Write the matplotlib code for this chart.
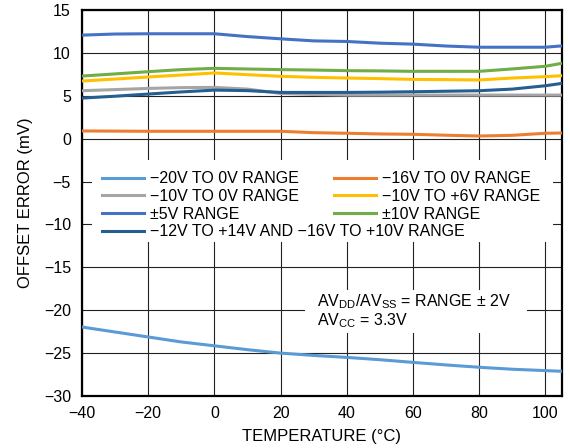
import matplotlib.pyplot as plt
from matplotlib.patches import Rectangle

plt.rcParams['font.family'] = ['Liberation Sans', 'DejaVu Sans']
plt.rcParams['mathtext.fontset'] = 'custom'
plt.rcParams['mathtext.rm'] = 'Liberation Sans'

temps = [-40, -30, -20, -10, 0, 10, 20, 30, 40, 50, 60, 70, 80, 90, 100, 105]

neg20_to_0 = [-21.96, -22.54, -23.12, -23.70, -24.15, -24.60, -25.00, -25.27,
              -25.50, -25.77, -26.08, -26.38, -26.65, -26.88, -27.04, -27.12]
neg16_to_0 = [0.90, 0.88, 0.86, 0.86, 0.86, 0.86, 0.86, 0.70,
              0.63, 0.55, 0.51, 0.40, 0.31, 0.39, 0.63, 0.66]
neg10_to_0 = [5.59, 5.72, 5.86, 5.95, 5.98, 5.78, 5.27, 5.15,
              5.08, 5.08, 5.08, 5.08, 5.08, 5.08, 5.08, 5.08]
neg10_to_pos6 = [6.72, 6.95, 7.19, 7.42, 7.66, 7.46, 7.27, 7.15,
                 7.07, 7.00, 6.91, 6.88, 6.84, 7.07, 7.23, 7.34]
pm5 = [12.07, 12.20, 12.23, 12.23, 12.23, 11.90, 11.64, 11.40,
       11.33, 11.13, 11.02, 10.80, 10.66, 10.66, 10.66, 10.82]
pm10 = [7.30, 7.55, 7.81, 8.05, 8.20, 8.12, 8.05, 8.00,
        7.93, 7.90, 7.85, 7.85, 7.85, 8.13, 8.44, 8.79]
neg12_to_14 = [4.73, 4.95, 5.20, 5.45, 5.66, 5.60, 5.39, 5.39,
               5.39, 5.42, 5.47, 5.53, 5.59, 5.78, 6.17, 6.45]

labels = ['\u221220V TO 0V RANGE', '\u221216V TO 0V RANGE',
          '\u221210V TO 0V RANGE', '\u221210V TO +6V RANGE',
          '\u00b15V RANGE', '\u00b110V RANGE',
          '\u221212V TO +14V AND \u221216V TO +10V RANGE']
colors = ['#5B9BD5', '#ED7D31', '#A5A5A5', '#FFC000', '#4472C4', '#70AD47', '#255E91']
series = [neg20_to_0, neg16_to_0, neg10_to_0, neg10_to_pos6, pm5, pm10, neg12_to_14]

fig = plt.figure(figsize=(5.7, 4.48), dpi=100)
ax = fig.add_axes([82 / 570, 1 - 396 / 448, 480 / 570, 386 / 448])

lines = []
for vals, col, lab in zip(series, colors, labels):
    ln, = ax.plot(temps, vals, color=col, lw=2.2, label=lab, zorder=3)
    lines.append(ln)

ax.set_xlim(-40, 105)
ax.set_ylim(-30, 15)
ax.set_xticks(range(-40, 101, 20))
ax.set_yticks(range(-30, 16, 5))
ax.set_xticklabels([str(t).replace('-', '\u2212') for t in range(-40, 101, 20)])
ax.set_yticklabels([str(t).replace('-', '\u2212') for t in range(-30, 16, 5)])
ax.tick_params(length=0, labelsize=11.5)
ax.tick_params(axis='y', pad=8)
ax.tick_params(axis='x', pad=7)
ax.set_axisbelow(True)
ax.grid(True, color='#222222', lw=0.8)
for s in ax.spines.values():
    s.set_linewidth(1.6)

ax.set_xlabel('TEMPERATURE (\u00b0C)', fontsize=12, labelpad=6)
ax.set_ylabel('OFFSET ERROR (mV)', fontsize=12, labelpad=8)

# white panels behind the key and the supply note
ax.add_patch(Rectangle((0.021, 0.399), 0.96, 0.212, transform=ax.transAxes,
                       facecolor='white', edgecolor='none', zorder=1.5))
ax.add_patch(Rectangle((0.465, 0.163), 0.462, 0.112, transform=ax.transAxes,
                       facecolor='white', edgecolor='none', zorder=1.5))

leg_kw = dict(frameon=False, fontsize=11.5, handlelength=2.6, handletextpad=0.42,
              labelspacing=0.17, borderpad=0, borderaxespad=0, loc='upper left')
left = ax.legend([lines[i] for i in (0, 2, 4, 6)], [labels[i] for i in (0, 2, 4, 6)],
                 bbox_to_anchor=(0.0417, 0.582), **leg_kw)
ax.add_artist(left)
ax.legend([lines[i] for i in (1, 3, 5)], [labels[i] for i in (1, 3, 5)],
          bbox_to_anchor=(0.525, 0.582), **leg_kw)

note1 = r'AV$_{\mathregular{DD}}$/AV$_{\mathregular{SS}}$ = RANGE ' + '\u00b1 2V'
note2 = r'AV$_{\mathregular{CC}}$ = 3.3V'
ax.text(0.49, 0.233, note1, transform=ax.transAxes, fontsize=11.5,
        va='baseline', zorder=4)
ax.text(0.49, 0.184, note2, transform=ax.transAxes, fontsize=11.5,
        va='baseline', zorder=4)

fig.savefig('out.png', dpi=100)
